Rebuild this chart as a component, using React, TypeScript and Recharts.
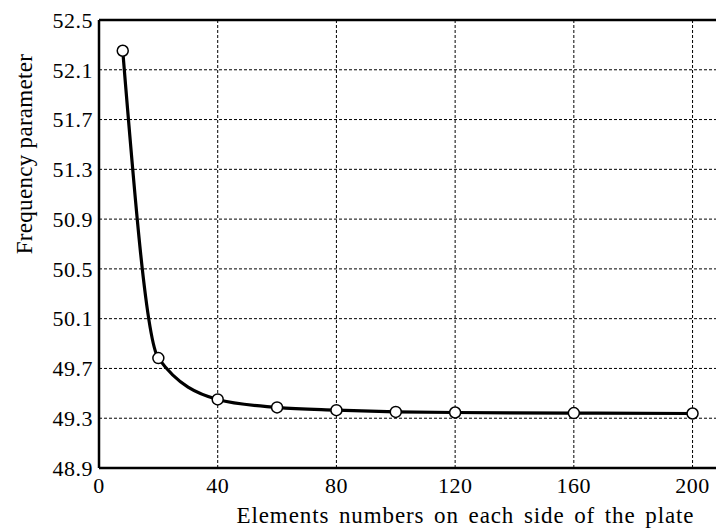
import React from "react";
import { LineChart, Line, XAxis, YAxis, CartesianGrid, ReferenceLine } from "recharts";

const elements = [8, 20, 40, 60, 80, 100, 120, 160, 200];
const frequency = [52.253, 49.783, 49.451, 49.387, 49.365, 49.351, 49.346, 49.341, 49.338];
const xTicks = [0, 40, 80, 120, 160, 200];
const yTicks = [48.9, 49.3, 49.7, 50.1, 50.5, 50.9, 51.3, 51.7, 52.1, 52.5];

const data = elements.map((e, i) => ({ e, f: frequency[i] }));

const FONT = "'Liberation Serif', 'DejaVu Serif', serif";

const YLabel = (props: any) => {
  const vb = props.viewBox || {};
  const cx = 32;
  const cy = (vb.y ?? 20) + 134;
  return (
    <text
      x={cx}
      y={cy}
      transform={`rotate(-90, ${cx}, ${cy})`}
      textAnchor="middle"
      fontFamily={FONT}
      fontSize={23}
      letterSpacing={0.3}
      fill="#000"
    >
      Frequency parameter
    </text>
  );
};

const XLabel = (props: any) => {
  const vb = props.viewBox || {};
  const x = 465.5;
  const y = (vb.y ?? 468) + 55;
  return (
    <text
      x={x}
      y={y}
      textAnchor="middle"
      fontFamily={FONT}
      fontSize={23}
      letterSpacing={0.9}
      wordSpacing={3}
      fill="#000"
    >
      Elements numbers on each side of the plate
    </text>
  );
};

export default function App() {
  return (
    <div style={{ position: "absolute", left: 0, top: 0, width: 716, height: 532, background: "#fff" }}>
      <LineChart width={716} height={532} data={data} margin={{ top: 20, right: 0, bottom: 0, left: 0 }}>
        <CartesianGrid stroke="#000" strokeWidth={1} strokeDasharray="3 2" verticalValues={xTicks} horizontalValues={yTicks} />
        <XAxis
          dataKey="e"
          type="number"
          domain={[0, 207.9]}
          ticks={xTicks}
          allowDataOverflow
          height={64}
          axisLine={{ stroke: "#000", strokeWidth: 2.5 }}
          tickLine={false}
          tickSize={0}
          tickMargin={9}
          tick={{ fill: "#000", fontFamily: FONT, fontSize: 22, letterSpacing: 0.5 }}
          label={<XLabel />}
        />
        <YAxis
          type="number"
          domain={[48.9, 52.5]}
          ticks={yTicks}
          allowDataOverflow
          width={99}
          axisLine={{ stroke: "#000", strokeWidth: 2.5 }}
          tickLine={false}
          tickSize={0}
          tickMargin={6}
          tickFormatter={(v: number) => v.toFixed(1)}
          tick={{ fill: "#000", fontFamily: FONT, fontSize: 22, letterSpacing: 0.5 }}
          label={<YLabel />}
        />
        <ReferenceLine y={52.5} stroke="#000" strokeWidth={2.5} ifOverflow="extendDomain" />
        <Line
          type="monotone"
          dataKey="f"
          stroke="#000"
          strokeWidth={3.2}
          isAnimationActive={false}
          dot={{ r: 5.5, fill: "#fff", stroke: "#000", strokeWidth: 1.5 }}
        />
      </LineChart>
    </div>
  );
}
